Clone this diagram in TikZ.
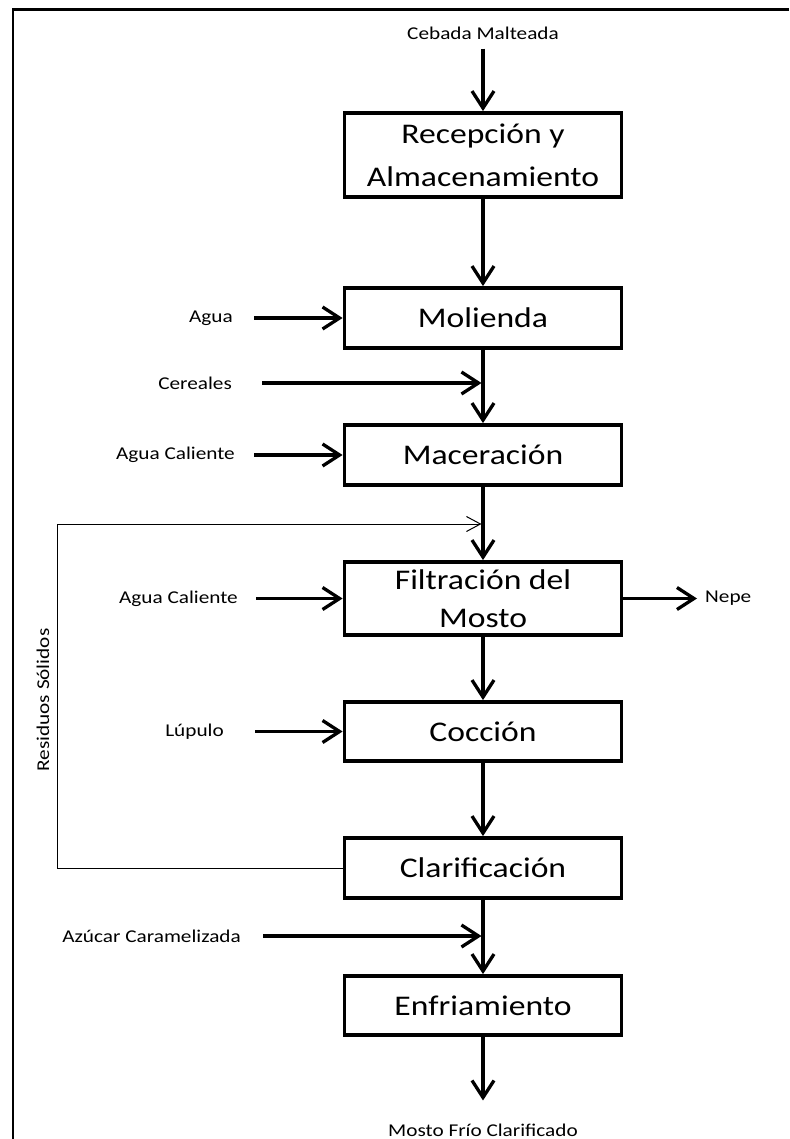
\documentclass[tikz,border=0pt]{standalone}
\usepackage{fontspec}
\setmainfont[FakeStretch=1.18]{Carlito}
\usetikzlibrary{arrows.meta}
\begin{document}
\begin{tikzpicture}[x=1pt,y=-1pt,
  stage/.style={draw, line width=3.8pt, minimum width=277pt, inner sep=0pt,
    align=center, font=\fontsize{28.5}{43}\selectfont},
  lbl/.style={inner sep=0pt, font=\fontsize{18}{22}\selectfont},
  flow/.style={line width=3.3pt, -{Straight Barb[length=17pt,width=22pt]}},
  recycle/.style={line width=1pt, -{Straight Barb[length=14pt,width=15pt]}}
]
\useasboundingbox (0,0) rectangle (789,1139);
% frame
\draw[line width=2.2pt] (789,9.5) -- (13,9.5) -- (13,1139);

% process stages
\node[stage, minimum height=84pt] (recep) at (483,155) {Recepción y\\Almacenamiento};
\node[stage, minimum height=60pt] (moli) at (483,318) {Molienda};
\node[stage, minimum height=60pt] (mace) at (483,455) {Maceración};
\node[stage, minimum height=73pt, font=\fontsize{28.5}{38}\selectfont] (filt) at (483,598.5) {Filtración del\\Mosto};
\node[stage, minimum height=59pt] (cocc) at (483,731.5) {Cocción};
\node[stage, minimum height=60pt] (clar) at (483,868) {Clarificación};
\node[stage, minimum height=59pt] (enfr) at (483,1005.5) {Enfriamiento};

% input / output labels
\node[lbl] (cebada) at (483,33) {Cebada Malteada};
\node[lbl, anchor=east] (agua) at (233,318) {Agua};
\node[lbl, anchor=east] (cereal) at (232,383) {Cereales};
\node[lbl, anchor=east] (agcal1) at (235,455) {Agua Caliente};
\node[lbl, anchor=east] (agcal2) at (238,598.5) {Agua Caliente};
\node[lbl, anchor=east] (lupulo) at (224,731.5) {Lúpulo};
\node[lbl, anchor=east] (azucar) at (241,936) {Azúcar Caramelizada};
\node[lbl, anchor=west] (nepe) at (705,598.5) {Nepe};
\node[lbl] (mosto) at (483,1130) {Mosto Frío Clarificado};
\node[lbl, rotate=90] (resid) at (43,700) {Residuos Sólidos};

% main line
\draw[flow, shorten <=9pt] (cebada) -- (recep);
\draw[flow] (recep) -- (moli);
\draw[flow] (moli) -- (mace);
\draw[flow] (mace) -- (filt);
\draw[flow] (filt) -- (cocc);
\draw[flow] (cocc) -- (clar);
\draw[flow] (clar) -- (enfr);
\draw[flow, shorten >=23pt] (enfr) -- (mosto);

% side streams
\draw[flow, shorten <=21pt] (agua.east) -- (agua.east -| moli.west);
\draw[flow, shorten <=30pt, shorten >=1.5pt] (cereal.east) -- (cereal.east -| moli.south);
\draw[flow, shorten <=19pt] (agcal1.east) -- (agcal1.east -| mace.west);
\draw[flow, shorten <=18pt] (agcal2.east) -- (agcal2.east -| filt.west);
\draw[flow, shorten <=31pt] (lupulo.east) -- (lupulo.east -| cocc.west);
\draw[flow, shorten <=22pt, shorten >=1.5pt] (azucar.east) -- (azucar.east -| clar.south);
\draw[flow, shorten >=8pt] (filt.east) -- (nepe.west);

% solids recycle loop
\coordinate (fbl) at (57,524);
\coordinate (fbr) at (481.5,524);
\draw[recycle] (clar.west) -| (fbl) -- (fbr);
\end{tikzpicture}
\end{document}
